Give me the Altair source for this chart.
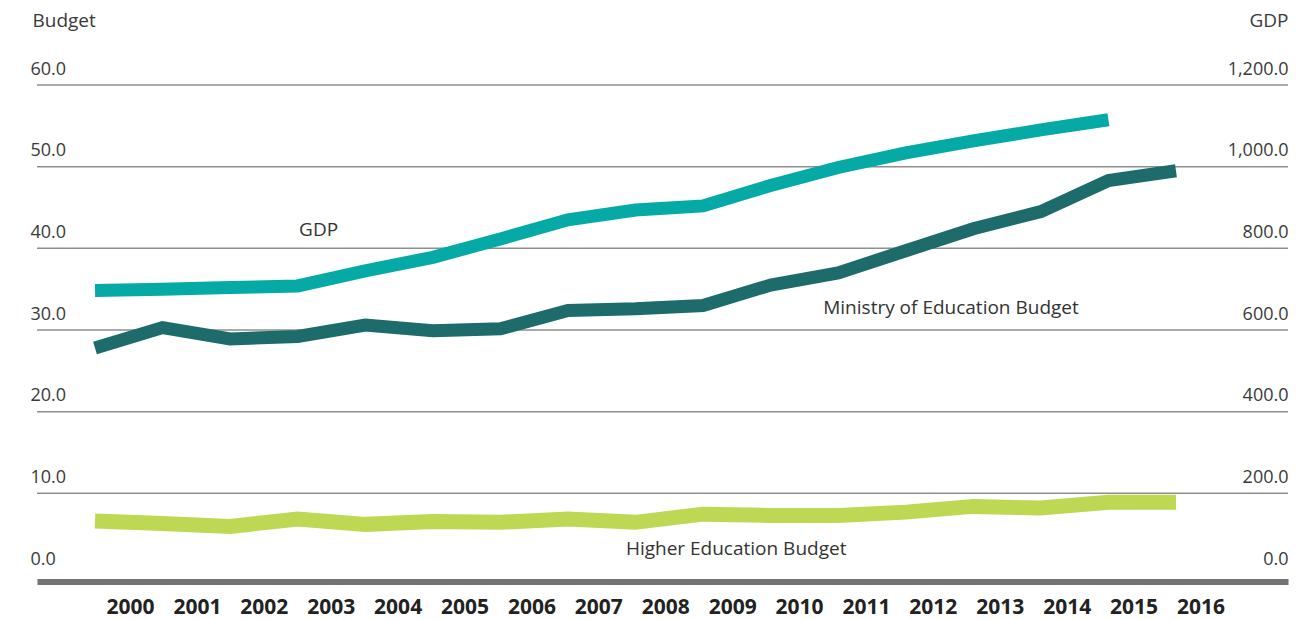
import altair as alt
import pandas as pd

# ---------------- data ----------------
years = list(range(2000, 2017))
gdp_years = list(range(2000, 2016))
gdp_values = [697, 700, 704, 708, 745, 778, 823, 870, 894, 904, 954, 998, 1034, 1063, 1090, 1115]
ministry_values = [27.8, 30.3, 28.9, 29.2, 30.6, 29.9, 30.15, 32.4, 32.6, 33.0, 35.5, 37.0,
                   39.7, 42.4, 44.5, 48.3, 49.5]
higher_values = [6.6, 6.3, 5.95, 6.85, 6.2, 6.55, 6.45, 6.85, 6.45, 7.45, 7.3, 7.3,
                 7.7, 8.4, 8.2, 8.9, 8.9]
budget_ticks = [0, 10, 20, 30, 40, 50, 60]
gdp_ticks = [0, 200, 400, 600, 800, 1000, 1200]
grid_values = [10, 20, 30, 40, 50, 60]
label_texts = ["GDP", "Ministry of Education Budget", "Higher Education Budget"]
label_years = [2003.31, 2012.67, 2009.49]
label_values = [41.5, 32.0, 2.4]

ministry_df = pd.DataFrame({"year": years, "value": ministry_values})
higher_df = pd.DataFrame({"year": years, "value": higher_values})
gdp_df = pd.DataFrame({"year": gdp_years, "gdp": gdp_values})
grid_df = pd.DataFrame({"value": grid_values})
labels_df = pd.DataFrame({"text": label_texts, "year": label_years, "value": label_values})
years_df = pd.DataFrame({"year": years})

FONT = "Open Sans"
W, H = 1251, 490

line_x_scale = alt.Scale(domain=[1999.1415, 2017.658], nice=False, zero=False)
axis_x_scale = alt.Scale(domain=[1998.610, 2017.308], nice=False, zero=False)
budget_scale = alt.Scale(domain=[0, 60], nice=False, zero=True)
gdp_scale = alt.Scale(domain=[0, 1200], nice=False, zero=True)

budget_axis = alt.Axis(
    orient="left", values=budget_ticks, format=",.1f", grid=False, ticks=False, tickSize=0,
    domain=False, labelAlign="left", labelBaseline="alphabetic", labelOffset=-11,
    labelPadding=7, labelFont=FONT, labelFontSize=18, labelColor="#3a3a3a",
    title="Budget", titleAngle=0, titleAlign="left", titleBaseline="alphabetic",
    titleX=-5, titleY=-59, titleFont=FONT, titleFontSize=19, titleFontWeight="normal",
    titleColor="#3a3a3a",
)
gdp_axis = alt.Axis(
    orient="right", values=gdp_ticks, format=",.1f", grid=False, ticks=False, tickSize=0,
    domain=False, labelAlign="right", labelBaseline="alphabetic", labelOffset=-11,
    labelPadding=0, labelFont=FONT, labelFontSize=18, labelColor="#3a3a3a",
    title="GDP", titleAngle=0, titleAlign="right", titleBaseline="alphabetic",
    titleX=0, titleY=-59, titleFont=FONT, titleFontSize=19, titleFontWeight="normal",
    titleColor="#3a3a3a",
)


def budget_y():
    return alt.Y("value:Q", scale=budget_scale, axis=budget_axis)


def line_x():
    return alt.X("year:Q", scale=line_x_scale, axis=None)


grid = alt.Chart(grid_df).mark_rule(color="#8e8e8e", strokeWidth=1.5).encode(
    y=budget_y()
)

ministry = alt.Chart(ministry_df).mark_line(color="#1d6b6b", strokeWidth=13).encode(
    x=line_x(), y=budget_y()
)

higher = alt.Chart(higher_df).mark_line(color="#bed853", strokeWidth=15).encode(
    x=line_x(), y=budget_y()
)

labels = alt.Chart(labels_df).mark_text(
    font=FONT, fontSize=19, color="#333333", align="center", baseline="alphabetic"
).encode(x=line_x(), y=budget_y(), text="text:N")

budget_layer = alt.layer(grid, ministry, higher, labels)

gdp_line = alt.Chart(gdp_df).mark_line(color="#05aaa7", strokeWidth=13).encode(
    x=line_x(),
    y=alt.Y("gdp:Q", scale=gdp_scale, axis=gdp_axis),
)

x_axis_layer = alt.Chart(years_df).mark_point(opacity=0).encode(
    x=alt.X(
        "year:Q", scale=axis_x_scale,
        axis=alt.Axis(
            values=years, format="d", grid=False, ticks=False, tickSize=0,
            domain=True, domainColor="#737373", domainWidth=6, offset=6.5,
            labelPadding=26, labelBaseline="middle", labelFont=FONT,
            labelFontSize=21, labelFontWeight="bold", labelColor="#222222",
            labelFlush=False, labelOverlap=False, title=None,
        ),
    )
)

chart = (
    alt.layer(budget_layer, gdp_line, x_axis_layer)
    .resolve_scale(x="independent", y="independent")
    .properties(
        width=W, height=H, background="white",
        padding={"left": 37, "top": 85, "right": 22, "bottom": 44},
        autosize=alt.AutoSizeParams(type="none"),
    )
    .configure_view(stroke=None)
)

chart.save("out.html", embed_options={"renderer": "svg", "actions": False})
